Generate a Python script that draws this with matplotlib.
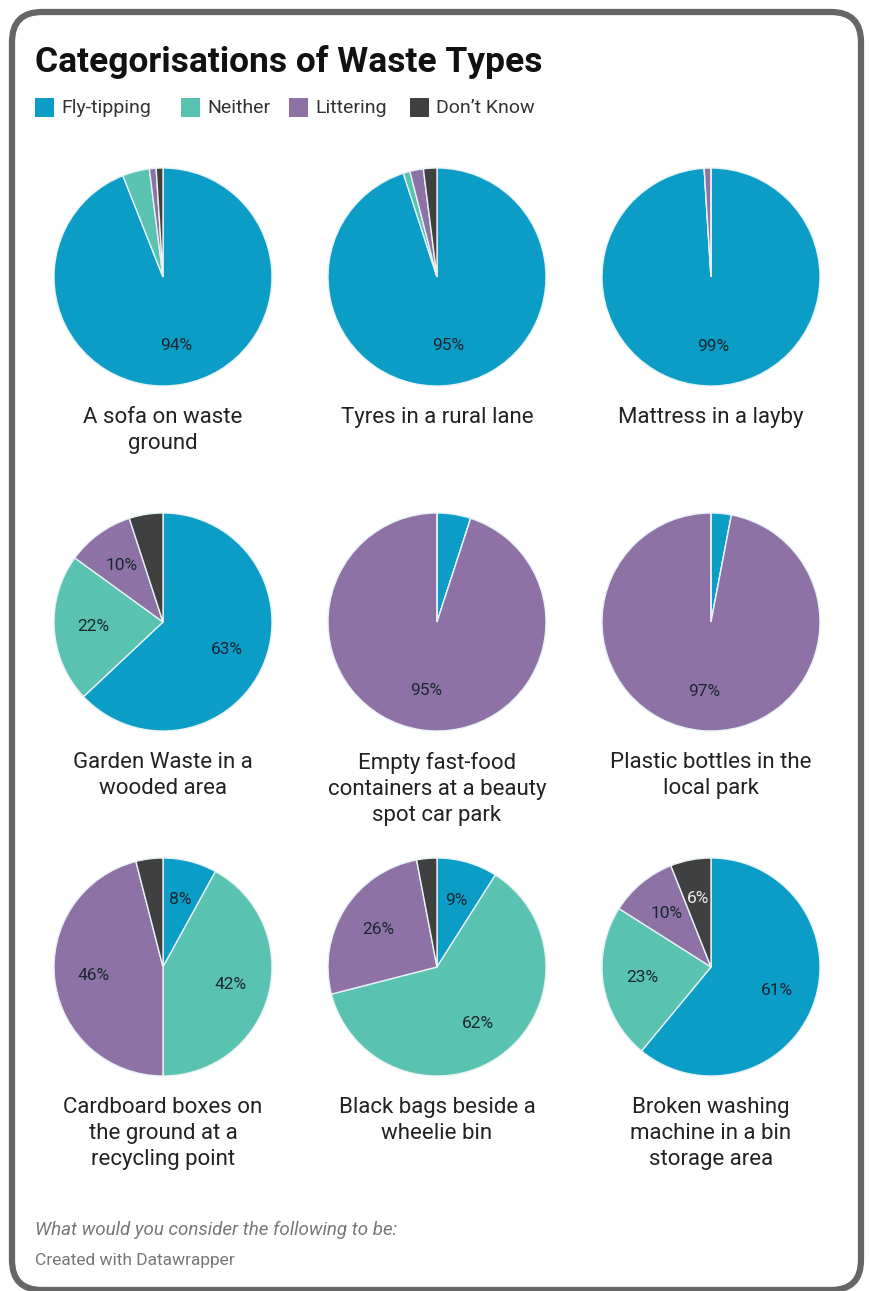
import matplotlib
matplotlib.use("Agg")
import matplotlib.pyplot as plt
from matplotlib.patches import FancyBboxPatch, Rectangle

plt.rcParams['font.family'] = ['Roboto', 'DejaVu Sans']

W, H = 870, 1291

categories = ["Fly-tipping", "Neither", "Littering", "Don\u2019t Know"]
colors = ["#0c9dc7", "#59c2b0", "#8e72a5", "#404040"]

titles = [
    "A sofa on waste\nground",
    "Tyres in a rural lane",
    "Mattress in a layby",
    "Garden Waste in a\nwooded area",
    "Empty fast-food\ncontainers at a beauty\nspot car park",
    "Plastic bottles in the\nlocal park",
    "Cardboard boxes on\nthe ground at a\nrecycling point",
    "Black bags beside a\nwheelie bin",
    "Broken washing\nmachine in a bin\nstorage area",
]

fly_tipping = [94, 95, 99, 63, 5, 3, 8, 9, 61]
neither = [4, 1, 0, 22, 0, 0, 42, 62, 23]
littering = [1, 2, 1, 10, 95, 97, 46, 26, 10]
dont_know = [1, 2, 0, 5, 0, 0, 4, 3, 6]

fig = plt.figure(figsize=(W / 100, H / 100), dpi=100)
bg = fig.add_axes([0, 0, 1, 1])
bg.set_xlim(0, W)
bg.set_ylim(H, 0)
bg.axis("off")

frame = FancyBboxPatch((12, 12), 849, 1278,
                       boxstyle="round,pad=0,rounding_size=30",
                       fc="white", ec="#666666", lw=4.5)
bg.add_patch(frame)

bg.text(35, 62, "Categorisations of Waste Types", fontsize=25.5,
        fontweight="bold", color="#111111", va="center", ha="left")

leg_x = [35, 181, 289, 410]
for x, c, name in zip(leg_x, colors, categories):
    bg.add_patch(Rectangle((x, 98), 19, 19, fc=c, ec="none"))
    bg.text(x + 26, 108, name, fontsize=14, color="#333333",
            va="center", ha="left")

col_x = [163, 437, 711]
row_y = [277, 622, 967]
r = 109

for i in range(9):
    cx = col_x[i % 3]
    cy = row_y[i // 3]
    ax = fig.add_axes([(cx - r) / W, 1 - (cy + r) / H, 2 * r / W, 2 * r / H])
    vals = [fly_tipping[i], neither[i], littering[i], dont_know[i]]
    wedges, texts, autotexts = ax.pie(
        vals, colors=colors, startangle=90, counterclock=False,
        radius=1, pctdistance=0.64,
        autopct=lambda p: f"{p:.0f}%" if p > 5.5 else "",
        wedgeprops=dict(edgecolor="#e8f2f4", linewidth=1),
        textprops=dict(fontsize=12.5, color="#1a2630"))
    autotexts[3].set_color("#eeeeee")
    ax.set_xlim(-1, 1)
    ax.set_ylim(-1, 1)
    ax.axis("off")
    bg.text(cx, cy + 130, titles[i], fontsize=16, color="#222222",
            ha="center", va="top", linespacing=1.3)

bg.text(35, 1230, "What would you consider the following to be:",
        fontsize=13.5, style="italic", color="#777777", va="center")
bg.text(35, 1260, "Created with Datawrapper", fontsize=12.5,
        color="#777777", va="center")

fig.savefig("out.png", dpi=100, facecolor="white")
